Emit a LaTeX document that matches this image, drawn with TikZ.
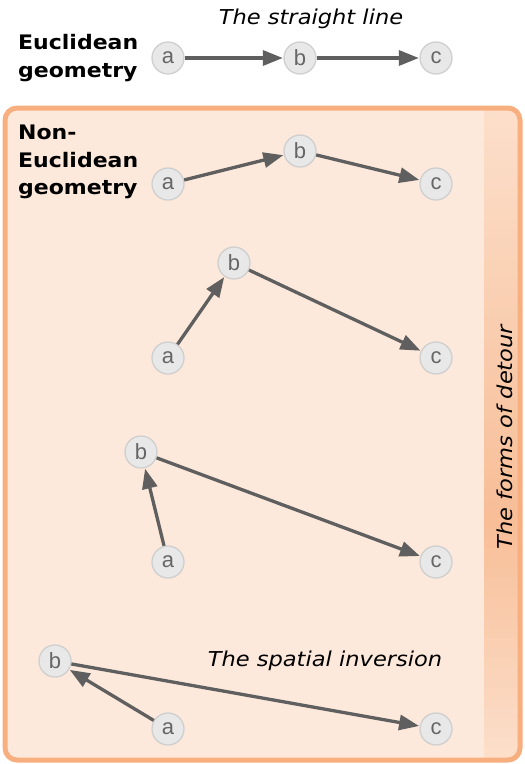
\documentclass[tikz,border=0pt]{standalone}
\usepackage{fontspec}
\setmainfont[FakeStretch=1.1]{DejaVu Sans}
\newfontfamily\nodefont{Liberation Sans}
\usetikzlibrary{arrows.meta}
\definecolor{boxfill}{HTML}{FDE9DC}
\definecolor{boxborder}{HTML}{F8AF80}
\definecolor{bandmid}{HTML}{F7BE97}
\definecolor{bandend}{HTML}{FCDFCB}
\definecolor{nodefill}{HTML}{E8E8E8}
\definecolor{nodeborder}{HTML}{CFCFCF}
\definecolor{nodetext}{HTML}{666666}
\definecolor{arrowgray}{HTML}{5F5F5F}
\begin{document}
\begin{tikzpicture}[x=1pt,y=-1pt,
  nd/.style={circle, draw=nodeborder, fill=nodefill, line width=1.3pt, minimum size=32pt, inner sep=0pt, text=nodetext, font=\nodefont\fontsize{22}{22}\selectfont},
  arr/.style={draw=arrowgray, line width=3.3pt, -{Triangle[length=20pt,width=15pt]}, shorten >=0.5pt},
  lbl/.style={font=\fontsize{20}{27.5}\selectfont\bfseries, align=left, anchor=west, inner sep=0pt},
  captxt/.style={font=\fontsize{20.5}{20.5}\selectfont\itshape, inner sep=0pt}]
\useasboundingbox (0,0) rectangle (525,764);
% outer box
\path[fill=boxfill, rounded corners=12pt] (5,108) rectangle (520,760);
\begin{scope}
  \clip[rounded corners=12pt] (5,108) rectangle (520,760);
  \foreach \i in {0,...,65} {
    \pgfmathsetmacro\yc{113+\i*10}
    \pgfmathsetmacro\p{max(0,min(100,\yc<520 ? (\yc-108)*0.24272 : (760-\yc)*0.41667))}
    \fill[bandmid!\p!bandend] (484,108+\i*10) rectangle (520,118.6+\i*10);
  }
\end{scope}
\draw[boxborder, line width=5pt, rounded corners=12pt] (5,108) rectangle (520,760);

% top row
\node[captxt] (t1) at (311,19) {The straight line};
\node[lbl] (l1) at (18,58) {Euclidean\\geometry};
\node[nd] (a1) at (168,58) {a};
\node[nd] (b1) at (300,58) {b};
\node[nd] (c1) at (436,58) {c};
\draw[arr] (a1) -- (b1);
\draw[arr] (b1) -- (c1);

\node[lbl] (l2) at (18,162) {Non-\\Euclidean\\geometry};
\node[captxt, rotate=90] (t2) at (505,437) {The forms of detour};
\node[captxt] (t3) at (325,661) {The spatial inversion};

% row 2
\node[nd] (a2) at (168,184) {a};
\node[nd] (b2) at (300,151) {b};
\node[nd] (c2) at (436,184) {c};
\draw[arr] (a2) -- (b2);
\draw[arr] (b2) -- (c2);
% row 3
\node[nd] (a3) at (168,358) {a};
\node[nd] (b3) at (234,263) {b};
\node[nd] (c3) at (436,358) {c};
\draw[arr] (a3) -- (b3);
\draw[arr] (b3) -- (c3);
% row 4
\node[nd] (a4) at (168,562) {a};
\node[nd] (b4) at (141,452) {b};
\node[nd] (c4) at (436,562) {c};
\draw[arr] (a4) -- (b4);
\draw[arr] (b4) -- (c4);
% row 5
\node[nd] (a5) at (168,729) {a};
\node[nd] (b5) at (55,661) {b};
\node[nd] (c5) at (436,729) {c};
\draw[arr] (a5) -- (b5);
\draw[arr] (b5) -- (c5);
\end{tikzpicture}
\end{document}
